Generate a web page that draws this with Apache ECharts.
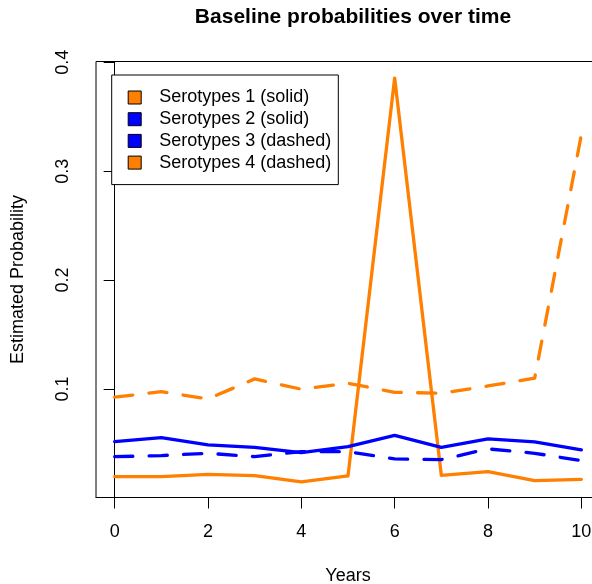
<!DOCTYPE html>
<html>
<head>
<meta charset="utf-8">
<script src="https://cdn.jsdelivr.net/npm/echarts@6/dist/echarts.min.js"></script>
<style>
html,body{margin:0;padding:0;background:#fff;}
#chart{width:592px;height:584px;}
</style>
</head>
<body>
<div id="chart"></div>
<script>
const years = [0,1,2,3,4,5,6,7,8,9,10];
const seriesNames = ['Serotypes 1 (solid)','Serotypes 2 (solid)','Serotypes 3 (dashed)','Serotypes 4 (dashed)'];
const sero1 = [0.0196,0.0196,0.0217,0.0205,0.0147,0.0202,0.3855,0.0208,0.0242,0.0159,0.0171];
const sero2 = [0.0517,0.0554,0.0487,0.0465,0.0416,0.0471,0.0575,0.0465,0.0542,0.0514,0.0441];
const sero3 = [0.0379,0.0389,0.0410,0.0379,0.0425,0.0425,0.0358,0.0352,0.0450,0.0410,0.0343];
const sero4 = [0.0925,0.0976,0.0909,0.1093,0.0998,0.1053,0.0970,0.0961,0.1028,0.1099,0.3333];
const xTicks = [0,2,4,6,8,10];
const yTicks = [0.1,0.2,0.3,0.4];

const ORANGE = '#FF7F00', BLUE = '#0000FF';
const FONT = 'Liberation Sans, Arial, sans-serif';

function pairs(vals){ return years.map((y,i)=>[y, vals[i]]); }
function mk(name, vals, color, dashed){
  return {
    name: name, type: 'line', data: pairs(vals), showSymbol: false, symbol: 'none',
    itemStyle: {color: color, borderColor: '#000', borderWidth: 1},
    lineStyle: {color: color, width: 3.3, type: dashed ? [18.2,16.28] : 'solid', cap: 'round', join: 'round'},
    animation: false
  };
}

const chart = echarts.init(document.getElementById('chart'), null, {renderer: 'canvas'});
chart.setOption({
  backgroundColor: '#fff',
  animation: false,
  title: {
    text: 'Baseline probabilities over time',
    left: 348, top: 1.5, textAlign: 'center',
    textStyle: {fontFamily: FONT, fontWeight: 'bold', fontSize: 21, color: '#000'}
  },
  grid: {left: 96, top: 61.5, width: 504, height: 436, outerBoundsMode: 'none', containLabel: false,
    show: true, borderColor: '#000', borderWidth: 1, backgroundColor: 'transparent'},
  legend: {
    orient: 'vertical', left: 111.7, top: 75,
    padding: [13.5, 7, 13, 16],
    backgroundColor: '#fff', borderColor: '#000', borderWidth: 1, borderRadius: 0,
    icon: 'rect', itemWidth: 13, itemHeight: 13, itemGap: 3.7,
    itemStyle: {borderColor: '#000', borderWidth: 1},
    textStyle: {fontFamily: FONT, fontSize: 18, color: '#000', lineHeight: 18, padding: [0,0,0,13]},
    data: seriesNames.map((n,i)=>({name: n, itemStyle: {color: [ORANGE,BLUE,BLUE,ORANGE][i]}}))
  },
  xAxis: {
    type: 'value', min: -0.4, max: 10.4,
    name: 'Years', nameLocation: 'middle', nameGap: 69.3,
    nameTextStyle: {fontFamily: FONT, fontSize: 18, color: '#000'},
    axisLine: {show: true, lineStyle: {color: '#000', width: 1}},
    axisTick: {show: true, length: 11, lineStyle: {color: '#000'}, customValues: xTicks},
    axisLabel: {fontFamily: FONT, fontSize: 18, color: '#000', margin: 25.6, customValues: xTicks, showMinLabel: true, showMaxLabel: true, hideOverlap: false},
    splitLine: {show: false}
  },
  yAxis: {
    type: 'value', min: 0.0004, max: 0.4007,
    name: 'Estimated Probability', nameLocation: 'middle', nameGap: 69, nameRotate: 90,
    nameTextStyle: {fontFamily: FONT, fontSize: 18, color: '#000'},
    axisLine: {show: true, lineStyle: {color: '#000', width: 1}},
    axisTick: {show: true, length: 11, lineStyle: {color: '#000'}, customValues: yTicks},
    axisLabel: {fontFamily: FONT, fontSize: 18, color: '#000', margin: 24.2, rotate: 90, customValues: yTicks,
      formatter: v => v.toFixed(1)},
    splitLine: {show: false}
  },
  series: [
    mk(seriesNames[0], sero1, ORANGE, false),
    mk(seriesNames[1], sero2, BLUE, false),
    mk(seriesNames[2], sero3, BLUE, true),
    mk(seriesNames[3], sero4, ORANGE, true)
  ]
});
</script>
</body>
</html>
